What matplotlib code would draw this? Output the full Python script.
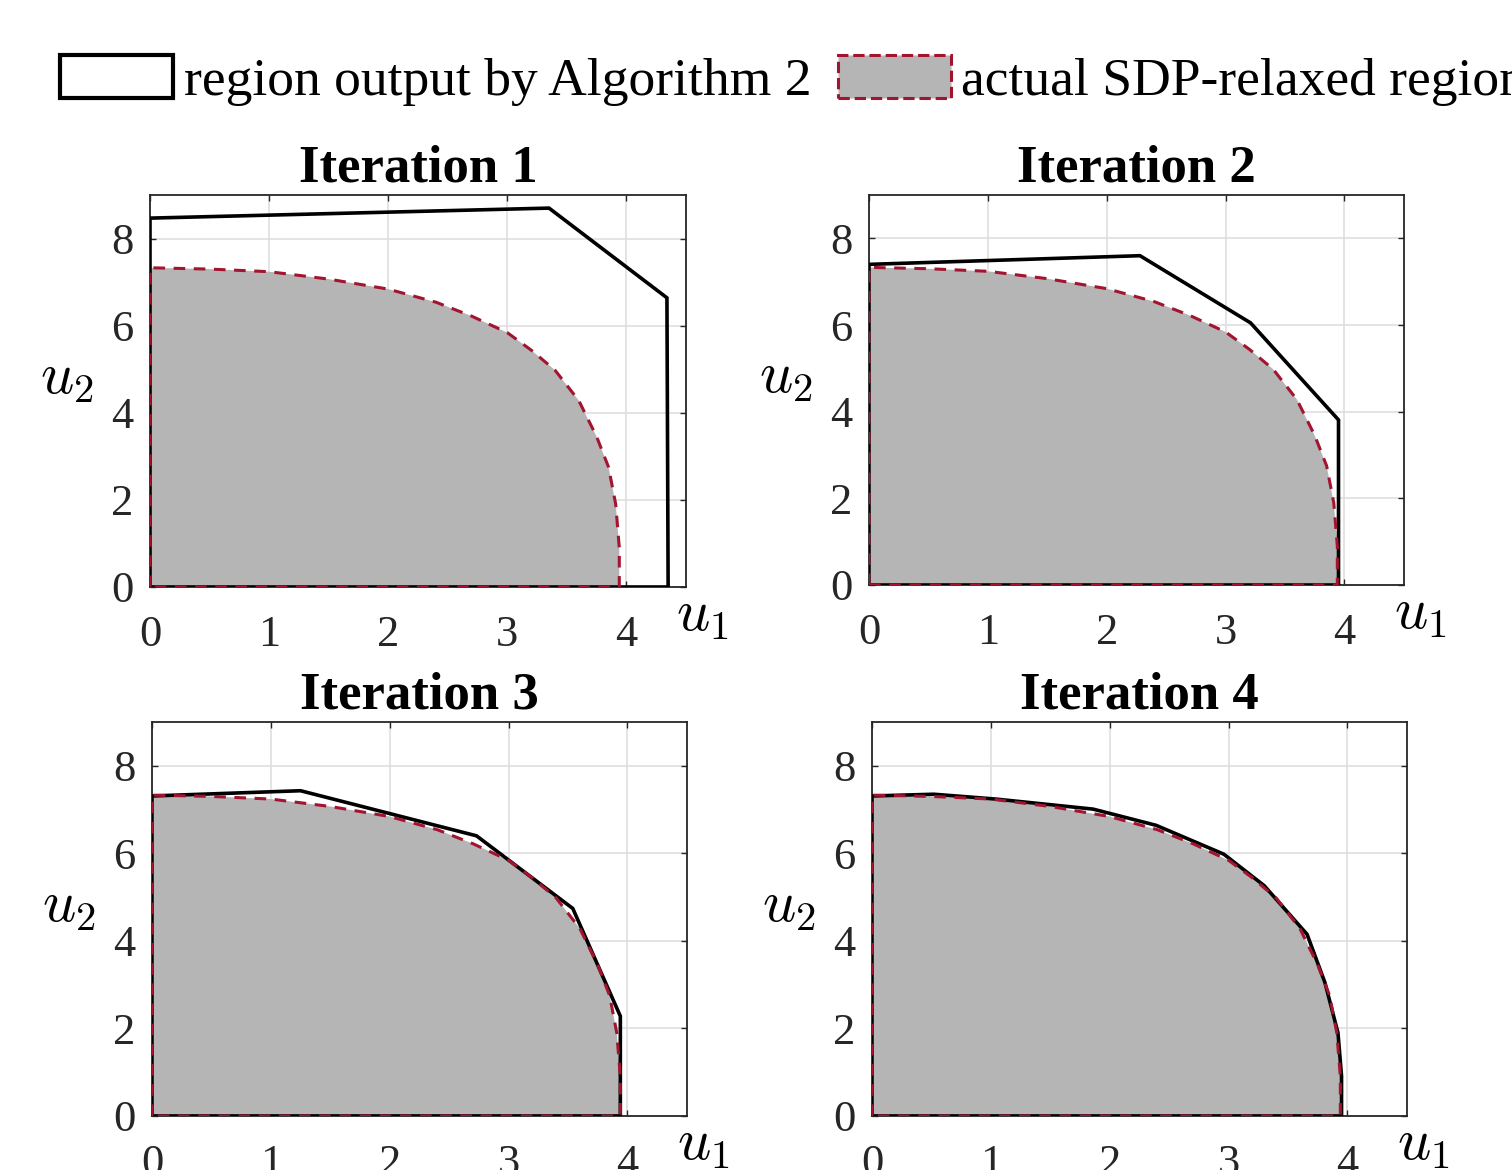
import numpy as np
import matplotlib
matplotlib.use("Agg")
import matplotlib.pyplot as plt
from matplotlib.patches import Patch

plt.rcParams['font.family'] = ['Liberation Serif', 'DejaVu Serif']
plt.rcParams['mathtext.fontset'] = 'cm'

# actual SDP-relaxed region (upper boundary, same in every panel)
region_u1 = [0, 0, 0.5, 1.0, 1.5, 2.0, 2.4, 2.7, 3.0, 3.2, 3.4, 3.6, 3.75, 3.85, 3.91, 3.94, 3.94, 0]
region_u2 = [0, 7.33, 7.30, 7.24, 7.07, 6.84, 6.54, 6.22, 5.84, 5.44, 4.98, 4.28, 3.45, 2.75, 1.90, 0.9, 0, 0]

# region output by Algorithm 2, one polygon per iteration
iter1_u1 = [0, 0, 3.35, 4.34, 4.35, 0]
iter1_u2 = [0, 8.47, 8.70, 6.64, 0, 0]
iter2_u1 = [0, 0, 2.28, 3.21, 3.95, 3.95, 0]
iter2_u2 = [0, 7.40, 7.60, 6.05, 3.81, 0, 0]
iter3_u1 = [0, 0, 1.25, 2.73, 3.54, 3.94, 3.94, 0]
iter3_u2 = [0, 7.31, 7.43, 6.40, 4.74, 2.28, 0, 0]
iter4_u1 = [0, 0, 0.52, 1.04, 1.86, 2.39, 2.96, 3.30, 3.66, 3.81, 3.92, 3.95, 3.95, 0]
iter4_u2 = [0, 7.31, 7.35, 7.24, 7.01, 6.64, 5.98, 5.26, 4.15, 3.05, 1.90, 0.91, 0, 0]

titles = ['Iteration 1', 'Iteration 2', 'Iteration 3', 'Iteration 4']
polys = [(iter1_u1, iter1_u2), (iter2_u1, iter2_u2), (iter3_u1, iter3_u2), (iter4_u1, iter4_u2)]
xticks = [0, 1, 2, 3, 4]
yticks = [0, 2, 4, 6, 8]

gray = '#b5b5b5'
red = '#a2142f'

fig = plt.figure(figsize=(15.12, 11.7), dpi=100)
positions = [[0.0992, 0.4983, 0.3545, 0.335],
             [0.5747, 0.5000, 0.3538, 0.3333],
             [0.1005, 0.0462, 0.3538, 0.3367],
             [0.5767, 0.0462, 0.3538, 0.3367]]

for pos, title, (pu1, pu2) in zip(positions, titles, polys):
    ax = fig.add_axes(pos)
    ax.fill(region_u1, region_u2, color=gray, lw=0, zorder=2)
    ax.plot(pu1, pu2, color='black', lw=2.6, zorder=3, solid_joinstyle='miter')
    ax.plot(region_u1, region_u2, color=red, lw=2.2, ls='--', dashes=(3.8, 2.8), zorder=4)
    ax.set_xlim(0, 4.5)
    ax.set_ylim(0, 9)
    ax.set_xticks(xticks)
    ax.set_yticks(yticks)
    ax.grid(True, color='#dddddd', lw=1.1, zorder=0)
    ax.set_axisbelow(True)
    ax.tick_params(direction='in', length=4, width=1, top=True, right=True,
                   labelsize=32, color='#262626', labelcolor='#262626')
    ax.tick_params(axis='x', pad=20)
    ax.tick_params(axis='y', pad=12)
    for s in ax.spines.values():
        s.set_color('#262626')
        s.set_linewidth(1.3)
    ax.set_title(title, fontweight='bold', fontsize=38, pad=10)
    ax.set_xlabel(r'$u_1$', fontsize=42)
    ax.xaxis.set_label_coords(1.03, -0.075)
    ax.xaxis.label.set_va('center')
    ax.set_ylabel(r'$u_2$', fontsize=42, rotation=0)
    ax.yaxis.set_label_coords(-0.155, 0.53)
    ax.yaxis.label.set_va('center')
    ax.yaxis.label.set_ha('center')

h1 = Patch(facecolor='white', edgecolor='black', lw=3)
h2 = Patch(facecolor=gray, edgecolor=red, lw=2.2, ls='--')
fig.legend([h1, h2], ['region output by Algorithm 2', 'actual SDP-relaxed region'],
           loc='upper left', bbox_to_anchor=(0.0397, 0.953), ncol=2, frameon=False,
           fontsize=38.5, handlelength=2.12, handleheight=0.85, handletextpad=0.19,
           columnspacing=0.5, borderpad=0, borderaxespad=0)

fig.savefig('out.png', dpi=100)
